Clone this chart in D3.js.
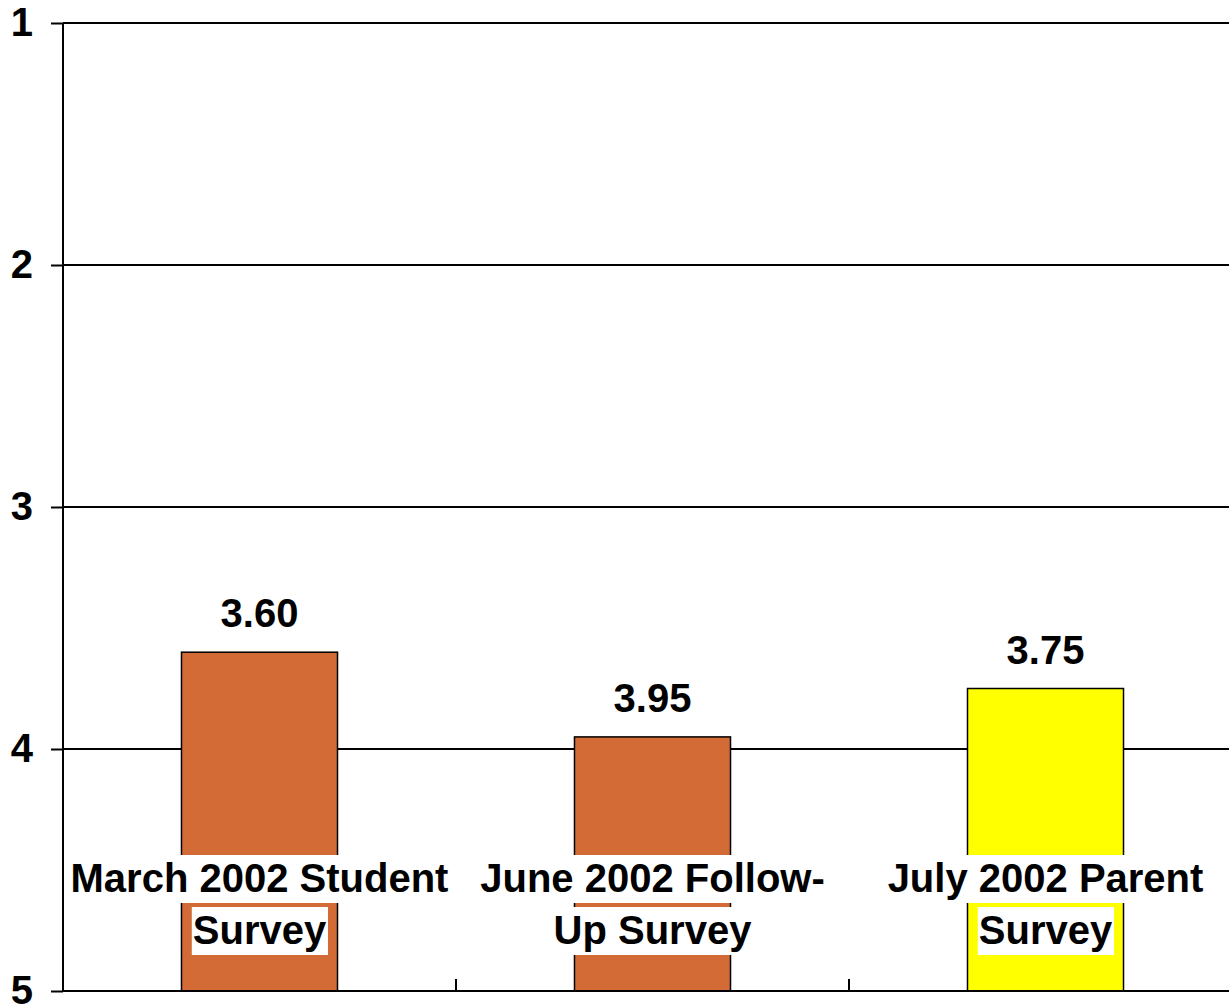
<!DOCTYPE html>
<html>
<head>
<meta charset="utf-8">
<script src="https://cdn.jsdelivr.net/npm/d3@7"></script>
<style>
html,body{margin:0;padding:0;background:#fff;overflow:hidden;}
svg{display:block;font-family:"Liberation Sans",Arial,sans-serif;font-weight:bold;}
</style>
</head>
<body>
<svg id="chart" width="1229" height="1004"></svg>
<script>
const categories = [
  ["March 2002 Student", "Survey"],
  ["June 2002 Follow-", "Up Survey"],
  ["July 2002 Parent", "Survey"]
];
const values = [3.60, 3.95, 3.75];
const valueLabels = ["3.60", "3.95", "3.75"];
const barColors = ["#D36B37", "#D36B37", "#FFFF00"];
const yTicks = [1, 2, 3, 4, 5];

(function () {
const svg = d3.select("#chart");
const pLeft = 63, pRight = 1242, pTop = 23, pBottom = 991;

const x = d3.scaleBand().domain(d3.range(categories.length)).range([pLeft, pRight]).padding(0);
const y = d3.scaleLinear().domain([1, 5]).range([pTop, pBottom]);
const barW = x.bandwidth() * 0.397;

// gridlines
svg.append("g").selectAll("line").data(yTicks.slice(0, 4)).join("line")
  .attr("x1", pLeft).attr("x2", 1229)
  .attr("y1", d => y(d)).attr("y2", d => y(d))
  .attr("stroke", "#000").attr("stroke-width", 2);

// bars
svg.append("g").selectAll("rect").data(values).join("rect")
  .attr("x", (d, i) => x(i) + x.bandwidth() / 2 - barW / 2)
  .attr("width", barW)
  .attr("y", d => y(d))
  .attr("height", d => y(5) - y(d))
  .attr("fill", (d, i) => barColors[i])
  .attr("stroke", "#000").attr("stroke-width", 1.5);

// value labels
svg.append("g").selectAll("text").data(values).join("text")
  .attr("x", (d, i) => x(i) + x.bandwidth() / 2)
  .attr("y", d => y(d) - 25)
  .attr("text-anchor", "middle")
  .attr("font-size", 40)
  .text((d, i) => valueLabels[i]);

// y axis
const yAxis = d3.axisLeft(y).tickValues(yTicks).tickSize(12).tickPadding(18).tickFormat(d3.format("d"));
const ya = svg.append("g").attr("transform", `translate(${pLeft},0)`).call(yAxis);
ya.select(".domain").remove();
ya.selectAll(".tick line").attr("stroke", "#000").attr("stroke-width", 2);
ya.selectAll(".tick text").attr("font-size", 40).attr("font-weight", "bold")
  .attr("font-family", '"Liberation Sans",Arial,sans-serif').attr("fill", "#000");
svg.append("line").attr("x1", pLeft).attr("x2", pLeft).attr("y1", pTop).attr("y2", pBottom)
  .attr("stroke", "#000").attr("stroke-width", 2);

// x axis
const xa = svg.append("g");
xa.append("line").attr("x1", pLeft).attr("x2", 1229).attr("y1", pBottom).attr("y2", pBottom)
  .attr("stroke", "#000").attr("stroke-width", 2);
xa.selectAll(".xt").data(d3.range(1, categories.length)).join("line").attr("class", "xt")
  .attr("x1", i => x(i)).attr("x2", i => x(i))
  .attr("y1", pBottom).attr("y2", pBottom - 12)
  .attr("stroke", "#000").attr("stroke-width", 2);

// category labels with white backgrounds
const lineBase = [892, 944];
categories.forEach((lines, i) => {
  const g = svg.append("g");
  lines.forEach((t, j) => {
    const txt = g.append("text")
      .attr("x", x(i) + x.bandwidth() / 2)
      .attr("y", lineBase[j])
      .attr("text-anchor", "middle")
      .attr("font-size", 40)
      .text(t);
    const bb = txt.node().getBBox();
    g.insert("rect", "text")
      .attr("x", bb.x - 1).attr("y", lineBase[j] - 37)
      .attr("width", bb.width + 2).attr("height", 48)
      .attr("fill", "#fff");
  });
});
})();
</script>
</body>
</html>
